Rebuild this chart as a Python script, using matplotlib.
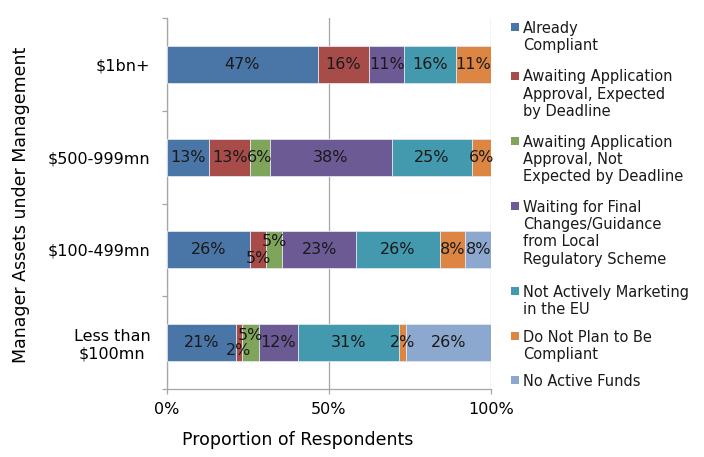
import matplotlib
matplotlib.use("Agg")
import matplotlib.pyplot as plt
from matplotlib.patches import Rectangle
import numpy as np

plt.rcParams["font.family"] = ["DejaVu Sans"]

# Categories (top to bottom)
categories = ["$1bn+", "$500-999mn", "$100-499mn", "Less than\n$100mn"]

series_names = [
    "Already\nCompliant",
    "Awaiting Application\nApproval, Expected\nby Deadline",
    "Awaiting Application\nApproval, Not\nExpected by Deadline",
    "Waiting for Final\nChanges/Guidance\nfrom Local\nRegulatory Scheme",
    "Not Actively Marketing\nin the EU",
    "Do Not Plan to Be\nCompliant",
    "No Active Funds",
]

# Percent of respondents per category, one list per series
already_compliant = [47, 13, 26, 21]
awaiting_expected = [16, 13, 5, 2]
awaiting_not_expected = [0, 6, 5, 5]
waiting_guidance = [11, 38, 23, 12]
not_marketing_eu = [16, 25, 26, 31]
not_plan_compliant = [11, 6, 8, 2]
no_active_funds = [0, 0, 8, 26]

colors = ["#4A76A7", "#A84C4A", "#7FA55A", "#6C5A94",
          "#4399AD", "#DD8543", "#8CA8CF"]

values = np.array([already_compliant, awaiting_expected, awaiting_not_expected,
                   waiting_guidance, not_marketing_eu, not_plan_compliant,
                   no_active_funds], dtype=float)
# 100% stacked: each category normalised to its total
shares = values / values.sum(axis=0)

W, H = 704, 457
fig = plt.figure(figsize=(W / 100, H / 100), dpi=100)
ax = fig.add_axes([167 / W, 1 - 389 / H, (491 - 167) / W, (389 - 18) / H])

ypos = np.arange(len(categories))
left = np.zeros(len(categories))

# vertical nudges (points) for labels of narrow neighbouring segments
label_nudge = {(1, 2): -6, (2, 2): 6, (1, 3): -6, (2, 3): 5}

for s in range(len(series_names)):
    ax.barh(ypos, shares[s], left=left, height=0.4, color=colors[s],
            edgecolor="#dfe5ee", linewidth=0.6, zorder=3)
    for c in range(len(categories)):
        if values[s, c] > 0:
            cx = left[c] + shares[s, c] / 2
            dy = label_nudge.get((s, c), 0)
            ax.annotate(f"{int(values[s, c])}%", (cx, ypos[c]),
                        xytext=(0, dy), textcoords="offset points",
                        ha="center", va="center", fontsize=11.5,
                        color="#1a1a1a", zorder=4)
    left += shares[s]

ax.set_xlim(0, 1)
ax.set_ylim(len(categories) - 0.5, -0.5)

ax.set_xticks([0, 0.5, 1.0])
ax.set_xticklabels(["0%", "50%", "100%"], fontsize=11.5)
ax.tick_params(axis="x", direction="out", length=3.5, width=0.9,
               color="#A6A6A6", pad=6)

ax.set_yticks(ypos)
ax.set_yticklabels(categories, fontsize=11.5, multialignment="center")
ax.set_yticks(np.arange(-0.5, len(categories)), minor=True)
ax.tick_params(axis="y", which="major", length=0, pad=12)
ax.tick_params(axis="y", which="minor", direction="out", length=3.5,
               width=0.9, color="#A6A6A6")

ax.xaxis.grid(True, color="#A6A6A6", linewidth=0.9, zorder=0)
ax.set_axisbelow(True)
for side in ["top", "right"]:
    ax.spines[side].set_visible(False)
for side in ["left", "bottom"]:
    ax.spines[side].set_color("#A6A6A6")
    ax.spines[side].set_linewidth(0.9)

fig.text(298 / W, 1 - 440 / H, "Proportion of Respondents",
         ha="center", va="center", fontsize=12.5)
fig.text(21 / W, 1 - 205 / H, "Manager Assets under Management",
         ha="center", va="center", rotation=90, fontsize=12.5)

# legend on the right, marker aligned with the first line of each entry
legend_rows = [27, 76, 141, 206, 291, 336, 380]
for name, col, yc in zip(series_names, colors, legend_rows):
    fig.add_artist(Rectangle((511 / W, 1 - (yc + 4) / H), 8 / W, 8 / H,
                             transform=fig.transFigure, facecolor=col,
                             edgecolor="none"))
    fig.text(523 / W, 1 - (yc - 6.5) / H, name, ha="left", va="top",
             fontsize=10.5, color="#1a1a1a", linespacing=1.2)

fig.savefig("out.png", dpi=100)
